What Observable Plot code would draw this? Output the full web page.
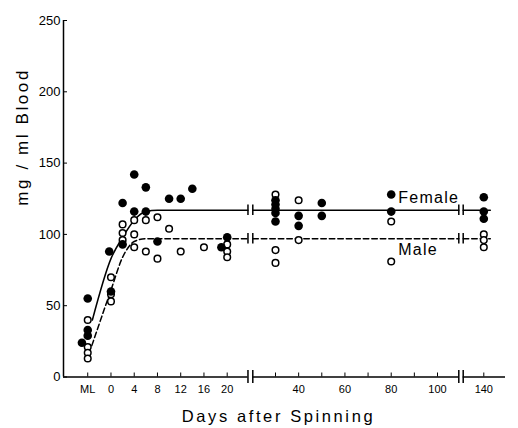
<!DOCTYPE html>
<html><head><meta charset="utf-8">
<script src="https://cdn.jsdelivr.net/npm/d3@7"></script>
<script src="https://cdn.jsdelivr.net/npm/@observablehq/plot@0.6"></script>
<style>
body{margin:0;background:#fff;}
#chart{width:518px;height:428px;}
</style></head><body><div id="chart"></div>
<script>
// ---- data ----
const femaleDays   = [-4,-4,-4,-5, -0.3,0, 2,2, 4,4, 6,6, 8, 10,12,14, 19,20, 30,30,30,30,30, 40,40, 50,50, 80,80, 140,140,140];
const femaleValues = [55,33,29,24, 88,60, 122,93, 142,116, 133,116, 95, 125,125,132, 91,98, 124,121,118,115,109, 113,106, 122,113, 128,116, 126,116,111];
const maleDays   = [-4,-4,-4,-4, 0,0,0, 2,2,2, 4,4,4, 6,6, 8,8, 10, 12, 16, 20,20,20, 30,30,30, 40,40, 80,80, 140,140,140];
const maleValues = [40,21,17,13, 70,58,53, 107,101,96, 110,100,91, 110,88, 112,83, 104, 88, 91, 93,88,84, 128,89,80, 124,96, 109,81, 100,96,91];
const femaleCurveDays   = [-3.2, 0, 2, 4, 6, 8];
const femaleCurveValues = [40, 83, 98, 110, 116, 117];
const maleCurveDays   = [-3.3, 0, 2, 3, 4, 6, 8];
const maleCurveValues = [22, 61, 84, 91, 95, 97, 97];
const femalePlateau = 117;
const malePlateau = 97;
const xTicks      = [-4, 0, 4, 8, 12, 16, 20, 30, 40, 50, 60, 70, 80, 90, 100, 140];
const xTickLabels = ["ML","0","4","8","12","16","20","","40","","60","","80","","100","140"];
const yTicks = [0, 50, 100, 150, 200, 250];
const seriesNames = ["Female", "Male"];
const yTitle = "mg / ml Blood";
const xTitle = "Days after Spinning";

// ---- axis layout (broken axis) ----
const xStart = -8.17, xEnd = 150, lineEnd = 143;
const breaks = [[24.3, 25.3], [118.4, 122.2]];

// curve rows split at the breaks
function curveRows(days, vals, plateau, name) {
  const rows = days.map((d, i) => ({day: d, value: vals[i], seg: name + "1"}));
  rows.push({day: breaks[0][0], value: plateau, seg: name + "1"});
  rows.push({day: breaks[0][1], value: plateau, seg: name + "2"});
  rows.push({day: breaks[1][0], value: plateau, seg: name + "2"});
  rows.push({day: breaks[1][1], value: plateau, seg: name + "3"});
  rows.push({day: lineEnd, value: plateau, seg: name + "3"});
  return rows;
}
const femaleCurve = curveRows(femaleCurveDays, femaleCurveValues, femalePlateau, "f");
const maleCurve = curveRows(maleCurveDays, maleCurveValues, malePlateau, "m");
const femalePts = femaleDays.map((d, i) => ({day: d, value: femaleValues[i]}));
const malePts = maleDays.map((d, i) => ({day: d, value: maleValues[i]}));

const axisSegs = [
  {x1: xStart, x2: breaks[0][0]},
  {x1: breaks[0][1], x2: breaks[1][0]},
  {x1: breaks[1][1], x2: xEnd}
];
const breakBars = [];
for (const b of breaks) for (const bx of b) {
  breakBars.push({day: bx, y1: -4.6, y2: 4.6});
  breakBars.push({day: bx, y1: femalePlateau - 3.7, y2: femalePlateau + 3.7});
  breakBars.push({day: bx, y1: malePlateau - 3.7, y2: malePlateau + 3.7});
}
const labelMap = new Map(xTicks.map((t, i) => [t, xTickLabels[i]]));

const chart = Plot.plot({
  width: 518,
  height: 428,
  marginLeft: 63,
  marginRight: 13,
  marginTop: 20,
  marginBottom: 51.5,
  style: {fontFamily: "Liberation Sans, Arial, sans-serif", background: "#fff", color: "#000"},
  x: {type: "linear", domain: [xStart, 20, 30, 100, 140, xEnd], range: [63, 226.7, 275, 437, 483.3, 505]},
  y: {domain: [0, 250]},
  marks: [
    Plot.axisY({ticks: yTicks, tickSize: -4, tickPadding: 7, fontSize: 13, label: null}),
    Plot.axisX({ticks: xTicks, tickSize: -4, tickPadding: 12, fontSize: 11, label: null,
      tickFormat: d => labelMap.get(d)}),
    Plot.ruleX([xStart], {y1: 0, y2: 250, strokeWidth: 1.5}),
    Plot.ruleY(axisSegs, {y: 0, x1: "x1", x2: "x2", strokeWidth: 1.5}),
    Plot.ruleX(breakBars, {x: "day", y1: "y1", y2: "y2", strokeWidth: 1.5}),
    Plot.line(femaleCurve, {x: "day", y: "value", z: "seg", curve: "monotone-x", stroke: "black", strokeWidth: 1.5}),
    Plot.line(maleCurve, {x: "day", y: "value", z: "seg", curve: "monotone-x", stroke: "black", strokeWidth: 1.5, strokeDasharray: "5.5,3"}),
    Plot.dot(malePts, {x: "day", y: "value", r: 3.3, fill: "white", stroke: "black", strokeWidth: 1.5}),
    Plot.dot(femalePts, {x: "day", y: "value", r: 4.3, fill: "black", stroke: "none"}),
    Plot.text(seriesNames, {x: 83, y: [125.3, 88.8], text: d => d, textAnchor: "start", lineAnchor: "middle", fontSize: 16}),
    Plot.text([yTitle], {frameAnchor: "left", dx: -41, dy: 7, rotate: -90, fontSize: 17}),
    Plot.text([xTitle], {frameAnchor: "bottom", dx: -6, dy: 40, lineAnchor: "middle", fontSize: 16.5})
  ]
});
// letter spacing for the titles and series labels
d3.select(chart).selectAll("text").each(function () {
  const t = this.textContent;
  if (t === yTitle || t === xTitle) this.style.letterSpacing = "2.6px";
  else if (seriesNames.includes(t)) this.style.letterSpacing = "1.3px";
});
document.getElementById("chart").appendChild(chart);
</script>
</body></html>
